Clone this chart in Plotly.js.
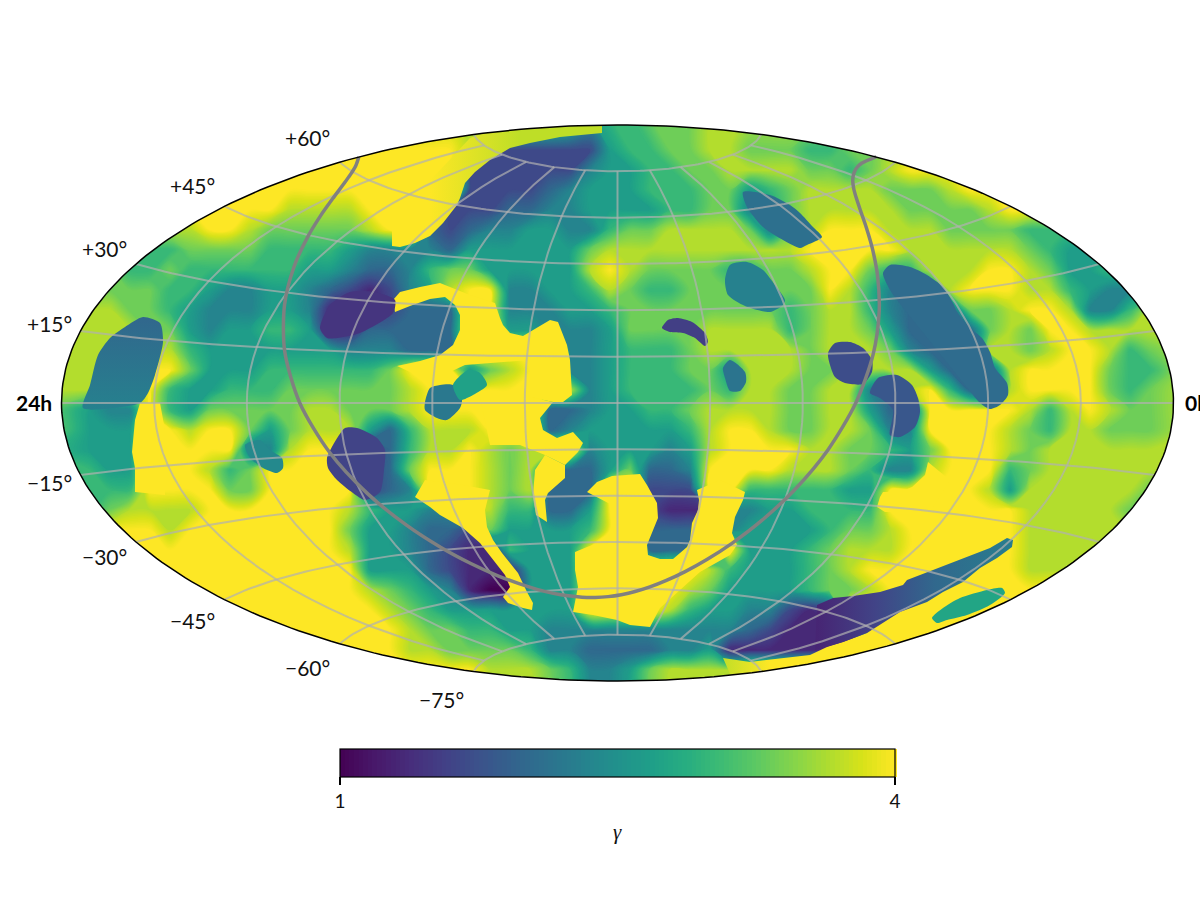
<!DOCTYPE html>
<html>
<head>
<meta charset="utf-8">
<script src="https://cdn.plot.ly/plotly-3.0.1.min.js"></script>
<style>html,body{margin:0;padding:0;background:#fff}#chart{width:1200px;height:900px}</style>
</head>
<body>
<div id="chart"></div>
<script>
// gamma levels on a 20 px lattice: digit d means gamma = 1 + d/3
const gridX0 = 70, gridY0 = 130, gridStep = 20;
const gridRows = [
"8888888888 8888888888 8888875667 7788888888 8888888888 888888",
"9999999999 9999999999 8222222566 7788777667 7888888888 888888",
"9999999999 9999999999 2222224556 6778888776 7899999999 999999",
"9999999999 9999999999 2222345556 6677567888 8777899999 999999",
"9999999999 9888899932 2233445555 6677457888 8877778999 999999",
"8888888998 7777789932 3445544677 8888747899 9888777766 666666",
"6666667777 6666544443 5555557888 8888888999 9988888876 555555",
"7776676666 6655433467 7555558987 7776677899 7668889987 556666",
"7777766544 5543212458 9944556876 6777777798 6434899988 654444",
"8887765444 5541112333 9944455677 7777776788 6433377899 844688",
"8888775455 6651133333 9955444577 7788886788 7533337879 988888",
"8888886555 5555444333 9999944566 6788888788 8743338878 998678",
"8889997555 6666667999 5789944566 6775888778 8885333899 997668",
"8888965566 6777777899 9999984566 6676887788 4389633899 997678",
"7544965777 7788777899 9999334556 6788887788 5339999986 898778",
"7555998997 5788853688 8999345555 5689987788 7449999876 887778",
"6555999994 4899923688 9878994555 4589999887 7657999878 888888",
"6655999867 9999923799 9878333573 3499998887 6448999678 888888",
"6666999977 9999923499 9878333992 2299666665 5999998588 888877",
"6678888999 9999865544 9866335992 1114455666 6999999988 888777",
"9999989999 9999755433 2755556993 3334555567 7899999988 888888",
"9999999999 9999855432 1165559993 3339555678 8899999988 888888",
"9999999999 9999955532 1115559999 9986555678 9999999988 888888",
"9999999999 9999987654 1005559999 9875555677 8999999999 999999",
"9999999999 9999998765 5555559999 8655442129 9999999999 999999",
"9999999999 9999999877 6655444444 4444321111 9999999999 999999",
"9999999999 9999999887 7776443333 4451111111 9999999999 999999",
"9999999999 9999999999 9888764457 8888999999 9999999999 999999",
"9999999999 9999999999 9888764457 8888999999 9999999999 999999"
];

// saturated (gamma = 4) regions whose borders are hard edges in the picture
const saturatedRegions = [
"397,366 410,372 450,372 465,365 530,360 530,397 553,402 563,402 572,395 571,380 570,360 567,345 558,322 550,320 533,330 523,336 510,333 503,325 500,318 495,303 470,295 440,283 420,287 400,292 393,300 395,312 410,306 430,299 445,297 455,305 460,315 460,330 453,345 440,355 420,361",
"553,402 540,418 543,430 557,438 573,432 583,443 578,452 565,465 545,455 520,445 490,445 480,397 530,397",
"565,465 565,478 548,493 545,500 547,522 536,515 533,495 535,470 545,455",
"415,497 430,507 440,515 463,528 480,543 493,560 505,575 510,587 503,597 508,603 523,608 532,610 533,603 527,592 518,573 502,553 493,540 487,527 485,510 490,490 463,485 425,480",
"587,492 597,482 612,476 640,474 647,485 657,503 658,518 652,533 647,545 648,555 660,559 673,559 687,547 690,540 692,523 698,510 699,500 697,490 720,480 745,492 743,500 735,517 732,533 737,545 730,555 700,572 680,590 660,608 650,627 630,625 617,620 593,615 573,612 578,587 575,570 575,552 587,547 600,542 612,540 612,505",
"140,403 135,420 132,452 135,468 135,492 165,495 165,430 160,403",
"928,462 925,475 912,487 900,492 883,492 880,497 877,507 885,512 930,512 950,480"
];

// the upper-left saturated region and the strip under the south band fade slightly
const northEdge = "392,246 400,247 415,243 430,236 443,223 457,205 460,198 465,183 475,172 490,160 510,148 530,143 560,137 602,133 602,120 520,120 470,138 440,170 420,190 400,212 392,228";
const southEdge = "723,658 750,662 810,655 827,647 843,642 867,633 880,625 900,612 930,640 880,685 735,685";

// low-gamma islands with hard borders, and their gamma
const islands = [
"430,388 440,385 453,385 462,400 460,408 447,420 437,418 425,410 425,402",
"453,385 468,370 480,373 487,385 473,395 460,400",
"327,458 333,445 345,428 357,428 377,438 385,450 384,470 380,492 365,500 353,493 337,480 328,468",
"662,328 668,320 678,318 692,322 705,333 708,342 705,346 695,338 683,333 670,332",
"730,360 745,372 746,382 740,391 730,391 725,378 723,368",
"828,353 835,343 850,342 863,348 872,360 872,372 863,384 845,383 835,377 830,365",
"870,393 878,378 897,375 912,385 918,398 920,412 915,427 900,437 890,435 893,410 880,398",
"883,273 890,265 910,267 927,275 943,287 953,303 957,312 970,328 982,338 990,352 995,368 1007,383 1008,395 1000,405 990,409 980,403 965,385 945,360 925,335 905,310 890,290",
"725,280 730,265 747,262 763,270 775,285 785,300 783,305 770,312 745,306 728,295",
"743,192 770,195 790,205 800,213 813,227 822,237 807,245 800,248 783,240 763,227 747,207",
"245,445 250,458 263,468 277,473 283,468 282,458 270,450 260,440",
"932,618 943,608 960,598 987,590 1002,588 1005,593 990,605 967,615 947,620 937,623",
"320,328 327,338 337,338 360,333 393,313 395,300 375,292 350,292 330,305"
];
const islandGamma = [2.2, 2.7, 1.6, 1.55, 2.15, 1.7, 1.8, 2.05, 2.3, 2.1, 2.4, 2.75, 1.45];

const westIsland = "83,408 90,385 98,355 110,338 125,327 143,317 160,323 163,342 155,375 148,393 140,403";
const southBand = "817,605 833,598 853,596 880,592 903,585 907,580 933,570 953,562 967,557 990,548 1007,538 1013,540 1012,547 997,558 980,568 963,582 943,592 927,602 900,612 880,625 867,633 843,642 827,647 815,650";

// galactic plane, right ascension and declination in degrees
const planeRA = [0,12.86,20.36,27.86,35.36,42.86,50.36,57.86,65.36,72.86,80.36,87.86,95.36,102.86,110.36,117.86,125.36,132.86,140.36,147.86,155.36,162.86,170.36,177.86,185.36,192.86,200.36,207.86,215.36,222.86,230.36,237.86,245.36,252.86,260.36,267.86,275.36,282.86,290.36,297.86,305.36,312.86,320.36,327.86,335.36,342.86,350.36,360];
const planeDec = [62.27,62.87,62.67,62.05,61,59.4,57.14,54.07,49.9,44.3,36.76,26.8,14.29,0,-14.29,-26.8,-36.76,-44.3,-49.9,-54.07,-57.14,-59.4,-61,-62.05,-62.67,-62.87,-62.67,-62.05,-61,-59.4,-57.14,-54.07,-49.9,-44.3,-36.76,-26.8,-14.29,0,14.29,26.8,36.76,44.3,49.9,54.07,57.14,59.4,61,62.27];

const decLabels = ["+60°","+45°","+30°","+15°","−15°","−30°","−45°","−60°","−75°"];
const decLabelX = [307,192,104,49,49,104,192,307,441];
const decLabelY = [137,186,249,323,482,556,620,667,699];
const parallels = [-75,-60,-45,-30,-15,0,15,30,45,60,75];
const meridians = [-150,-120,-90,-60,-30,0,30,60,90,120,150];
const colorbarTicks = [1,4];

const viridis = ['#440154','#48186a','#472d7b','#424086','#3b528b','#33638d','#2c728e','#26828e','#21918c','#1fa088','#28ae80','#3fbc73','#5ec962','#84d44b','#addc30','#d8e219','#fde725'];
function hex(c){return [1,3,5].map(i=>parseInt(c.substr(i,2),16));}
function gammaColor(g){
  const t=Math.min(1,Math.max(0,(g-1)/3))*(viridis.length-1), i=Math.min(viridis.length-2,Math.floor(t)), f=t-i;
  const a=hex(viridis[i]), b=hex(viridis[i+1]);
  return 'rgb('+a.map((v,k)=>Math.round(v+(b[k]-v)*f)).join(',')+')';
}
const CX=617.5, CY=403, SCALE=556/Math.PI;
function aitoff(lonDeg,latDeg){
  const l=lonDeg*Math.PI/360, p=latDeg*Math.PI/180, a=Math.acos(Math.cos(p)*Math.cos(l));
  const s=a<1e-9?1:Math.sin(a)/a;
  return [CX+SCALE*2*Math.cos(p)*Math.sin(l)/s, CY-SCALE*Math.sin(p)/s];
}
function parsePoly(s){const x=[],y=[];s.split(' ').forEach(p=>{const q=p.split(',');x.push(+q[0]);y.push(+q[1]);});x.push(x[0]);y.push(y[0]);return {x,y};}
function polyTrace(s,color,spline,grad){
  const p=parsePoly(s);
  const t={type:'scatter',mode:'lines',x:p.x,y:p.y,fill:'toself',fillcolor:color,hoverinfo:'skip',showlegend:false,
    line:{width:0,color:color,shape:spline?'spline':'linear',smoothing:0.7}};
  if(grad){t.fillgradient=grad;}
  return t;
}
const z=gridRows.map(r=>r.replace(/ /g,'').split('').map(d=>1+(+d)/3));
const gx=z[0].map((_,i)=>i===0?50:(i===z[0].length-1?1186:gridX0+i*gridStep));
const gy=z.map((_,i)=>i===0?115:gridY0+i*gridStep);
const traces=[];
traces.push({type:'contour',z:z,x:gx,y:gy,zmin:1,zmax:4,zauto:false,autocontour:false,colorscale:'Viridis',hoverinfo:'skip',
  contours:{coloring:'fill',showlines:false,start:1,end:4,size:0.025},line:{width:0,smoothing:1},
  colorbar:{orientation:'h',x:(617.5-50)/1136,xanchor:'center',y:(691-749)/576,yanchor:'top',lenmode:'pixels',len:555,thicknessmode:'pixels',thickness:28,
    outlinecolor:'#000',outlinewidth:1.2,xpad:0,ypad:0,tickmode:'array',tickvals:colorbarTicks,ticktext:colorbarTicks.map(String),ticks:'outside',ticklen:8,tickwidth:1.2,tickcolor:'#000',
    tickfont:{family:'Lato',size:19,color:'#111'}}});
saturatedRegions.forEach(s=>traces.push(polyTrace(s,gammaColor(4),false)));
traces.push(polyTrace(northEdge,gammaColor(4),false,{type:'horizontal',start:430,stop:520,colorscale:[[0,gammaColor(4)],[1,gammaColor(3.7)]]}));
traces.push(polyTrace(southEdge,gammaColor(4),false,{type:'horizontal',start:720,stop:770,colorscale:[[0,gammaColor(3.7)],[1,gammaColor(4)]]}));
islands.forEach((s,i)=>traces.push(polyTrace(s,gammaColor(islandGamma[i]),true)));
traces.push(polyTrace(westIsland,gammaColor(2.1),true,{type:'vertical',start:320,stop:410,colorscale:[[0,gammaColor(2.0)],[1,gammaColor(2.3)]]}));
traces.push(polyTrace(southBand,gammaColor(1.6),false,{type:'horizontal',start:817,stop:1013,colorscale:[[0,gammaColor(1.3)],[0.3,gammaColor(1.6)],[0.6,gammaColor(2.0)],[1,gammaColor(2.25)]]}));

// white mask outside the sky ellipse
const rim={x:[],y:[]};
for(let a=90;a>=-90;a-=1){const p=aitoff(180,a);rim.x.push(p[0]);rim.y.push(p[1]);}
for(let a=-90;a<=90;a+=1){const p=aitoff(-180,a);rim.x.push(p[0]);rim.y.push(p[1]);}
const leftIdx=rim.x.indexOf(Math.min.apply(null,rim.x));
const rx=rim.x.slice(leftIdx).concat(rim.x.slice(0,leftIdx)), ry=rim.y.slice(leftIdx).concat(rim.y.slice(0,leftIdx));
traces.push({type:'scatter',mode:'lines',x:[50,50,1186,1186,50,50].concat(rx).concat([rx[0],50]),y:[403,691,691,115,115,403].concat(ry).concat([ry[0],403]),
  fill:'toself',fillcolor:'#fff',line:{width:0,color:'#fff'},hoverinfo:'skip',showlegend:false});

const gridLine={color:'rgba(176,176,176,0.7)',width:2};
parallels.forEach(lat=>{const x=[],y=[];for(let l=-180;l<=180;l+=3){const p=aitoff(l,lat);x.push(p[0]);y.push(p[1]);}
  traces.push({type:'scatter',mode:'lines',x,y,line:gridLine,hoverinfo:'skip',showlegend:false});});
meridians.forEach(lon=>{const x=[],y=[];for(let a=-75;a<=75;a+=3){const p=aitoff(lon,a);x.push(p[0]);y.push(p[1]);}
  traces.push({type:'scatter',mode:'lines',x,y,line:gridLine,hoverinfo:'skip',showlegend:false});});

const plane=planeRA.map((ra,i)=>aitoff(180-ra,planeDec[i]));
traces.push({type:'scatter',mode:'lines',x:plane.map(p=>p[0]),y:plane.map(p=>p[1]),line:{color:'#808080',width:3.5,shape:'spline',smoothing:0.8},hoverinfo:'skip',showlegend:false});
traces.push({type:'scatter',mode:'lines',x:rx.concat([rx[0]]),y:ry.concat([ry[0]]),line:{color:'#000',width:1.5},hoverinfo:'skip',showlegend:false});

function px(x){return (x-50)/1136;}
function py(y){return (691-y)/576;}
const annotations=decLabels.map((t,i)=>({text:t,xref:'paper',yref:'paper',x:px(decLabelX[i]),y:py(decLabelY[i]),xanchor:'center',yanchor:'middle',showarrow:false,font:{family:'Lato',size:21,color:'#111'}}));
annotations.push({text:'<b>24h</b>',xref:'paper',yref:'paper',x:px(34),y:py(402),xanchor:'center',yanchor:'middle',showarrow:false,font:{family:'Lato',size:21,color:'#000'}});
annotations.push({text:'<b>0h</b>',xref:'paper',yref:'paper',x:px(1183),y:py(402),xanchor:'left',yanchor:'middle',showarrow:false,font:{family:'Lato',size:21,color:'#000'}});
annotations.push({text:'<i>γ</i>',xref:'paper',yref:'paper',x:px(617.5),y:py(832),xanchor:'center',yanchor:'middle',showarrow:false,font:{family:'Liberation Serif',size:21,color:'#111'}});

const layout={width:1200,height:900,margin:{l:50,r:14,t:115,b:209,autoexpand:false},paper_bgcolor:'#fff',plot_bgcolor:'#fff',showlegend:false,
  xaxis:{range:[50,1186],visible:false,fixedrange:true},yaxis:{range:[691,115],visible:false,fixedrange:true},annotations};
Plotly.newPlot('chart',traces,layout,{staticPlot:true,displayModeBar:false});
</script>
</body>
</html>
